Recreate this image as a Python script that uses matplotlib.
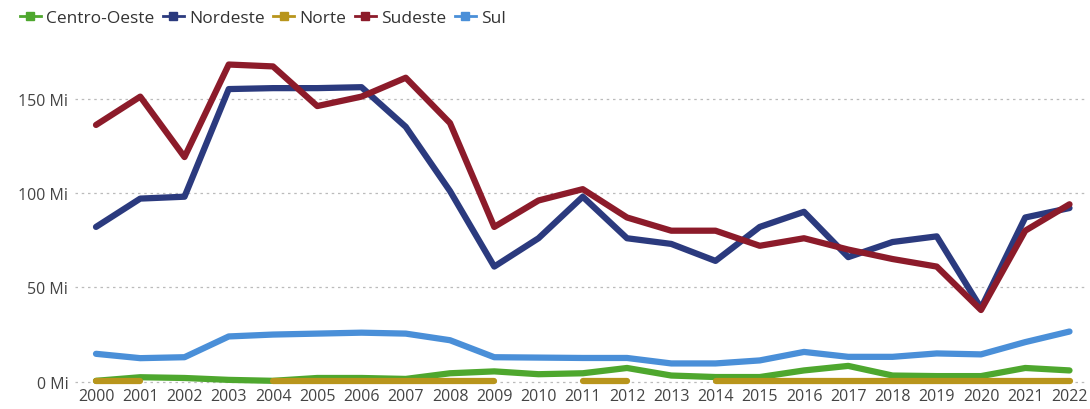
import matplotlib.pyplot as plt
from matplotlib.lines import Line2D
import numpy as np

plt.rcParams['font.family'] = ['Open Sans', 'DejaVu Sans']

# Anos
anos = list(range(2000, 2023))

# Valores por região (Mi)
centro_oeste = [0.5, 2.4, 2, 1, 0.5, 2, 2, 1.5, 4.5, 5.5, 4, 4.5, 7.3, 3.3, 2.5, 2.5, 6, 8.4, 3.3, 3, 3, 7.3, 6]
nordeste = [82, 97, 98, 155, 155.5, 155.5, 156, 135, 101, 61, 76, 98, 76, 73, 64, 82, 90, 66, 74, 77, 39, 87, 92]
norte = [0.6, 0.6, np.nan, np.nan, 0.6, 0.6, 0.6, 0.6, 0.6, 0.6, np.nan, 0.6, 0.6, np.nan,
         0.6, 0.6, 0.6, 0.6, 0.6, 0.6, 0.6, 0.6, 0.6]
sudeste = [136, 151, 119, 168, 167, 146, 151, 161, 137, 82, 96, 102, 87, 80, 80, 72, 76, 70, 65, 61, 38, 80, 94]
sul = [14.8, 12.5, 13, 24, 25, 25.5, 26, 25.5, 22, 13, 12.8, 12.6, 12.6, 9.7, 9.7, 11.3, 15.8, 13.2, 13.2, 15, 14.5, 21, 26.6]

series = [
    ('Centro-Oeste', centro_oeste, '#4ea72e'),
    ('Nordeste', nordeste, '#2b3a7e'),
    ('Norte', norte, '#b8951c'),
    ('Sudeste', sudeste, '#8c1b2a'),
    ('Sul', sul, '#4a8fd8'),
]

fig = plt.figure(figsize=(10.9, 4.1), dpi=100)
ax = fig.add_axes([0.069, 0.054, 0.926, 0.80])

for nome, valores, cor in series:
    ax.plot(anos, valores, color=cor, linewidth=4.5, solid_capstyle='round',
            solid_joinstyle='round', label=nome)

ax.set_xlim(1999.53, 2022.34)
ax.set_ylim(-2.7, 171)
ax.set_yticks([0, 50, 100, 150])
ax.set_yticklabels(['0 Mi', '50 Mi', '100 Mi', '150 Mi'])
ax.set_xticks(anos)
ax.set_xticklabels([str(a) for a in anos])
ax.tick_params(axis='both', length=0, labelsize=11.5, colors='#444444')
ax.tick_params(axis='x', pad=1)
ax.tick_params(axis='y', pad=5)
ax.grid(axis='y', color='#bbbbbb', linestyle=(0, (2, 3)), linewidth=0.9)
ax.set_axisbelow(True)
for s in ax.spines.values():
    s.set_visible(False)

handles = [Line2D([0], [0], color=cor, linewidth=2, marker='s', markersize=6)
           for _, _, cor in series]
fig.legend(handles, [n for n, _, _ in series], loc='upper left',
           bbox_to_anchor=(0.004, 1.012), ncol=5, frameon=False, fontsize=12.5,
           handlelength=1.2, handletextpad=0.3, columnspacing=0.5,
           labelcolor='#333333')

fig.savefig('out.png', dpi=100)
